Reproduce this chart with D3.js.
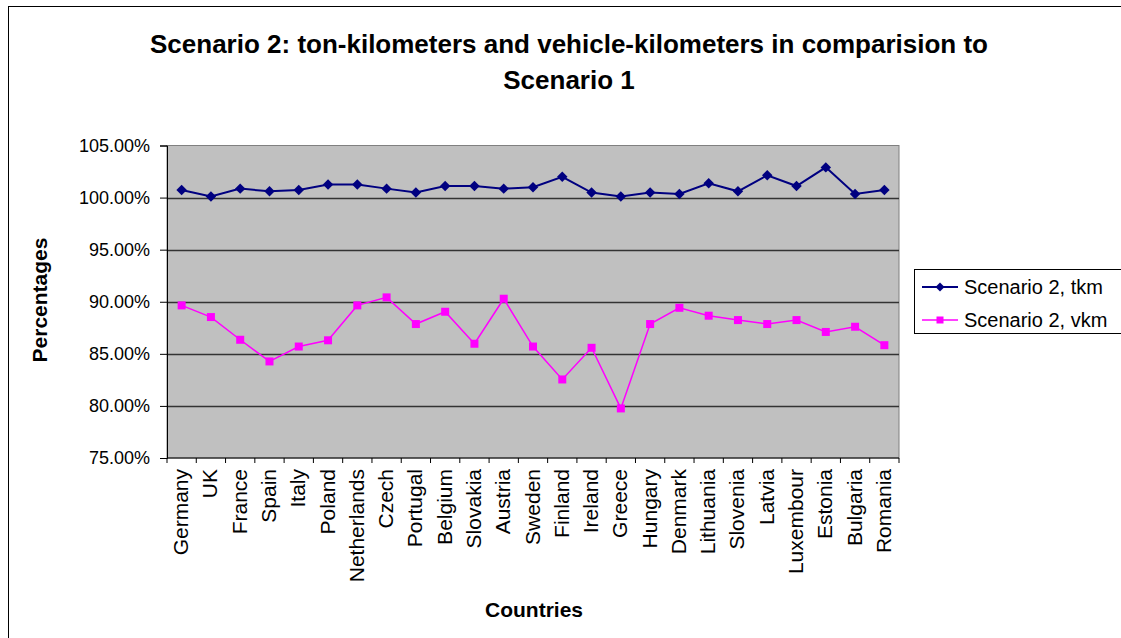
<!DOCTYPE html>
<html>
<head>
<meta charset="utf-8">
<script src="https://cdn.jsdelivr.net/npm/d3@7"></script>
<style>
  body { margin: 0; background: #fff; }
  svg { font-family: "Liberation Sans", Arial, sans-serif; }
</style>
</head>
<body>
<svg id="chart" width="1121" height="638"></svg>
<script>
// data
var countries = ["Germany", "UK", "France", "Spain", "Italy", "Poland", "Netherlands", "Czech",
    "Portugal", "Belgium", "Slovakia", "Austria", "Sweden", "Finland", "Ireland", "Greece",
    "Hungary", "Denmark", "Lithuania", "Slovenia", "Latvia", "Luxembour", "Estonia", "Bulgaria", "Romania"];
var tkm = [100.73, 100.10, 100.86, 100.60, 100.73, 101.25, 101.25, 100.86, 100.48, 101.11, 101.11, 100.86,
    100.99, 102.00, 100.48, 100.10, 100.48, 100.35, 101.37, 100.60, 102.14, 101.11, 102.90, 100.35, 100.73];
var vkm = [89.65, 88.53, 86.35, 84.27, 85.70, 86.30, 89.65, 90.42, 87.86, 89.04, 85.97, 90.29,
    85.70, 82.54, 85.58, 79.76, 87.86, 89.42, 88.66, 88.24, 87.86, 88.24, 87.10, 87.60, 85.83];
var yTicks = [75, 80, 85, 90, 95, 100, 105];
var seriesNames = ["Scenario 2, tkm", "Scenario 2, vkm"];
var seriesColors = ["#000080", "#FF00FF"];

var svg = d3.select("#chart"),
    margin = {left: 167, top: 145.5, right: 222, bottom: 180},
    width = 1121 - margin.left - margin.right,
    height = 638 - margin.top - margin.bottom;

// outer frame
svg.append("rect")
    .attr("x", 8.5).attr("y", 6.5)
    .attr("width", 1130).attr("height", 640)
    .style("fill", "none").style("stroke", "#000");

// title
svg.append("text")
    .attr("x", 569).attr("y", 53)
    .attr("text-anchor", "middle")
    .style("font-weight", "bold").style("font-size", "26px")
    .text("Scenario 2: ton-kilometers and vehicle-kilometers in comparision to");
svg.append("text")
    .attr("x", 569).attr("y", 89)
    .attr("text-anchor", "middle")
    .style("font-weight", "bold").style("font-size", "26px")
    .text("Scenario 1");

var x = d3.scaleBand().domain(countries).range([margin.left, margin.left + width]);
var y = d3.scaleLinear().domain([75, 105]).range([margin.top + height, margin.top]);

// plot area
svg.append("rect")
    .attr("x", margin.left).attr("y", margin.top)
    .attr("width", width).attr("height", height)
    .style("fill", "#C0C0C0").style("stroke", "#808080");

// grid lines
svg.append("g").selectAll("line")
    .data(yTicks.slice(1, -1))
    .enter().append("line")
    .attr("x1", margin.left).attr("x2", margin.left + width)
    .attr("y1", d => Math.round(y(d)) + 0.5).attr("y2", d => Math.round(y(d)) + 0.5)
    .style("stroke", "#333").style("stroke-width", 1.5);

// y axis
var yAxis = svg.append("g")
    .attr("transform", "translate(" + margin.left + ",0)")
    .call(d3.axisLeft(y).tickValues(yTicks).tickSize(7).tickPadding(10)
        .tickFormat(d => d.toFixed(2) + "%"));
yAxis.selectAll("text").style("font-size", "18px").style("fill", "#000");
yAxis.selectAll("line, path").style("stroke", "#000");

// x axis: ticks sit between categories
var xAxis = svg.append("g")
    .attr("transform", "translate(0," + (margin.top + height) + ")");
xAxis.append("line")
    .attr("x1", margin.left).attr("x2", margin.left + width)
    .style("stroke", "#000");
xAxis.selectAll(".tk")
    .data(countries.concat(["end"]))
    .enter().append("line").attr("class", "tk")
    .attr("x1", (d, i) => margin.left + i * x.step())
    .attr("x2", (d, i) => margin.left + i * x.step())
    .attr("y1", 0).attr("y2", 5)
    .style("stroke", "#000");
xAxis.selectAll(".lbl")
    .data(countries)
    .enter().append("text").attr("class", "lbl")
    .attr("transform", d => "translate(" + (x(d) + x.bandwidth() / 2 + 6.5) + ",11) rotate(-90)")
    .attr("text-anchor", "end")
    .style("font-size", "21px")
    .text(d => d);

// axis titles
svg.append("text")
    .attr("transform", "translate(47,300) rotate(-90)")
    .attr("text-anchor", "middle")
    .style("font-weight", "bold").style("font-size", "21px")
    .text("Percentages");
svg.append("text")
    .attr("x", 534).attr("y", 617)
    .attr("text-anchor", "middle")
    .style("font-weight", "bold").style("font-size", "21px")
    .text("Countries");

// lines
var cx = d => x(d) + x.bandwidth() / 2;
var line = d3.line().x(d => cx(d.c)).y(d => y(d.v));
var series = [tkm, vkm].map(vals => vals.map((v, i) => ({c: countries[i], v: v})));

svg.append("path").datum(series[0])
    .attr("d", line)
    .style("fill", "none").style("stroke", seriesColors[0]).style("stroke-width", 2);
svg.append("path").datum(series[1])
    .attr("d", line)
    .style("fill", "none").style("stroke", seriesColors[1]).style("stroke-width", 1.5);

var diamond = d3.symbol().type(d3.symbolSquare).size(55);
svg.append("g").selectAll("path")
    .data(series[0]).enter().append("path")
    .attr("d", diamond)
    .attr("transform", d => "translate(" + cx(d.c) + "," + y(d.v) + ") rotate(45)")
    .style("fill", seriesColors[0]);
svg.append("g").selectAll("rect")
    .data(series[1]).enter().append("rect")
    .attr("x", d => cx(d.c) - 4).attr("y", d => y(d.v) - 4)
    .attr("width", 8).attr("height", 8)
    .style("fill", seriesColors[1]);

// legend
var lg = svg.append("g");
lg.append("rect")
    .attr("x", 914.5).attr("y", 269.5)
    .attr("width", 240).attr("height", 64)
    .style("fill", "#fff").style("stroke", "#000");
seriesNames.forEach(function (name, i) {
    var ly = 287 + i * 33;
    lg.append("line")
        .attr("x1", 922).attr("x2", 958).attr("y1", ly).attr("y2", ly)
        .style("stroke", seriesColors[i]).style("stroke-width", i === 0 ? 2 : 1.5);
    if (i === 0) {
        lg.append("path").attr("d", d3.symbol().type(d3.symbolSquare).size(40))
            .attr("transform", "translate(940," + ly + ") rotate(45)")
            .style("fill", seriesColors[i]);
    } else {
        lg.append("rect").attr("x", 936.5).attr("y", ly - 3.5).attr("width", 7).attr("height", 7)
            .style("fill", seriesColors[i]);
    }
    lg.append("text")
        .attr("x", 964).attr("y", ly + 7)
        .style("font-size", "20px")
        .text(name);
});
</script>
</body>
</html>
